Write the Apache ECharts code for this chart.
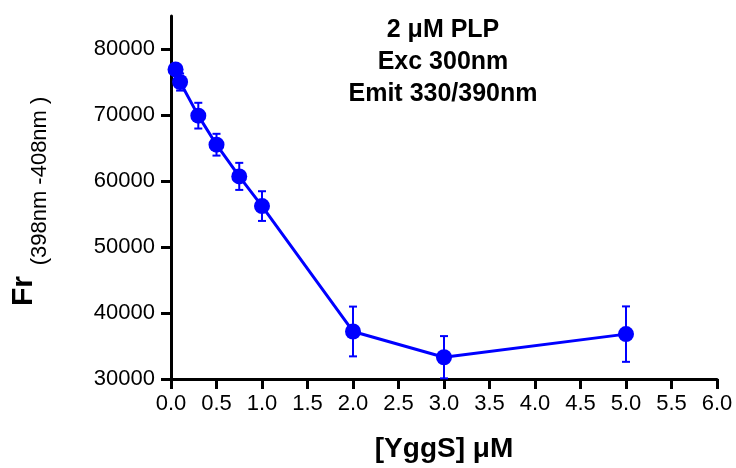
<!DOCTYPE html>
<html>
<head>
<meta charset="utf-8">
<script src="https://cdn.jsdelivr.net/npm/echarts@6/dist/echarts.min.js"></script>
<style>
  html, body { margin: 0; padding: 0; background: #ffffff; }
  #chart { width: 736px; height: 468px; }
</style>
</head>
<body>
<div id="chart"></div>
<script>
// YggS titration of PLP fluorescence (mean ± error)
const yggsConc = [0.05, 0.1, 0.3, 0.5, 0.75, 1.0, 2.0, 3.0, 5.0];
const fluorescence = [76900, 75000, 69900, 65500, 60700, 56200, 37200, 33300, 36800];
const errors = [600, 1300, 1950, 1650, 2050, 2250, 3770, 3200, 4200];
const xTicks = [0, 0.5, 1, 1.5, 2, 2.5, 3, 3.5, 4, 4.5, 5, 5.5, 6];
const yTicks = [30000, 40000, 50000, 60000, 70000, 80000];

const BLUE = '#0000ff';
const FONT = '"Liberation Sans", Arial, sans-serif';

const points = yggsConc.map((x, i) => [x, fluorescence[i]]);
const errData = yggsConc.map((x, i) => [x, fluorescence[i], errors[i]]);

const chart = echarts.init(document.getElementById('chart'), null, { renderer: 'canvas' });

chart.setOption({
  backgroundColor: '#ffffff',
  animation: false,
  grid: { left: 171, right: 19, top: 16, bottom: 87 },
  xAxis: {
    type: 'value',
    min: 0,
    max: 6,
    interval: 0.5,
    splitLine: { show: false },
    axisLine: { onZero: false, lineStyle: { color: '#000', width: 3 } },
    axisTick: { length: 10, lineStyle: { color: '#000', width: 3 } },
    axisLabel: {
      margin: 14,
      color: '#000',
      fontFamily: FONT,
      fontSize: 22,
      formatter: v => v.toFixed(1)
    },
    name: '[YggS] μM',
    nameLocation: 'middle',
    nameGap: 56,
    nameTextStyle: { color: '#000', fontFamily: FONT, fontSize: 28, fontWeight: 'bold' }
  },
  yAxis: {
    type: 'value',
    min: 30000,
    max: 85000,
    splitLine: { show: false },
    axisLine: { onZero: false, lineStyle: { color: '#000', width: 3 } },
    axisTick: { length: 10, customValues: yTicks, lineStyle: { color: '#000', width: 3 } },
    axisLabel: {
      margin: 16,
      color: '#000',
      fontFamily: FONT,
      fontSize: 22,
      customValues: yTicks,
      formatter: v => String(v)
    }
  },
  graphic: [
    {
      type: 'text',
      x: 443,
      y: 14,
      style: {
        text: '2 μM PLP\nExc 300nm\nEmit 330/390nm',
        align: 'center',
        verticalAlign: 'top',
        lineHeight: 32,
        font: 'bold 25px ' + FONT,
        fill: '#000'
      }
    },
    {
      type: 'text',
      x: 24,
      y: 291,
      rotation: Math.PI / 2,
      style: {
        text: 'Fr',
        align: 'center',
        verticalAlign: 'middle',
        font: 'bold 30px ' + FONT,
        fill: '#000'
      }
    },
    {
      type: 'text',
      x: 40,
      y: 181,
      rotation: Math.PI / 2,
      style: {
        text: '(398nm -408nm )',
        align: 'center',
        verticalAlign: 'middle',
        font: '22px ' + FONT,
        fill: '#000'
      }
    }
  ],
  series: [
    {
      type: 'custom',
      data: errData,
      z: 3,
      renderItem: function (params, api) {
        const x = api.value(0), y = api.value(1), e = api.value(2);
        const top = api.coord([x, y + e]);
        const bot = api.coord([x, y - e]);
        const cap = 4;
        const style = { stroke: BLUE, lineWidth: 2 };
        return {
          type: 'group',
          children: [
            { type: 'line', shape: { x1: top[0], y1: top[1], x2: bot[0], y2: bot[1] }, style },
            { type: 'line', shape: { x1: top[0] - cap, y1: top[1], x2: top[0] + cap, y2: top[1] }, style },
            { type: 'line', shape: { x1: bot[0] - cap, y1: bot[1], x2: bot[0] + cap, y2: bot[1] }, style }
          ]
        };
      }
    },
    {
      type: 'line',
      data: points,
      z: 4,
      symbol: 'circle',
      symbolSize: 16,
      lineStyle: { color: BLUE, width: 3 },
      itemStyle: { color: BLUE },
      clip: false
    }
  ]
});
</script>
</body>
</html>
